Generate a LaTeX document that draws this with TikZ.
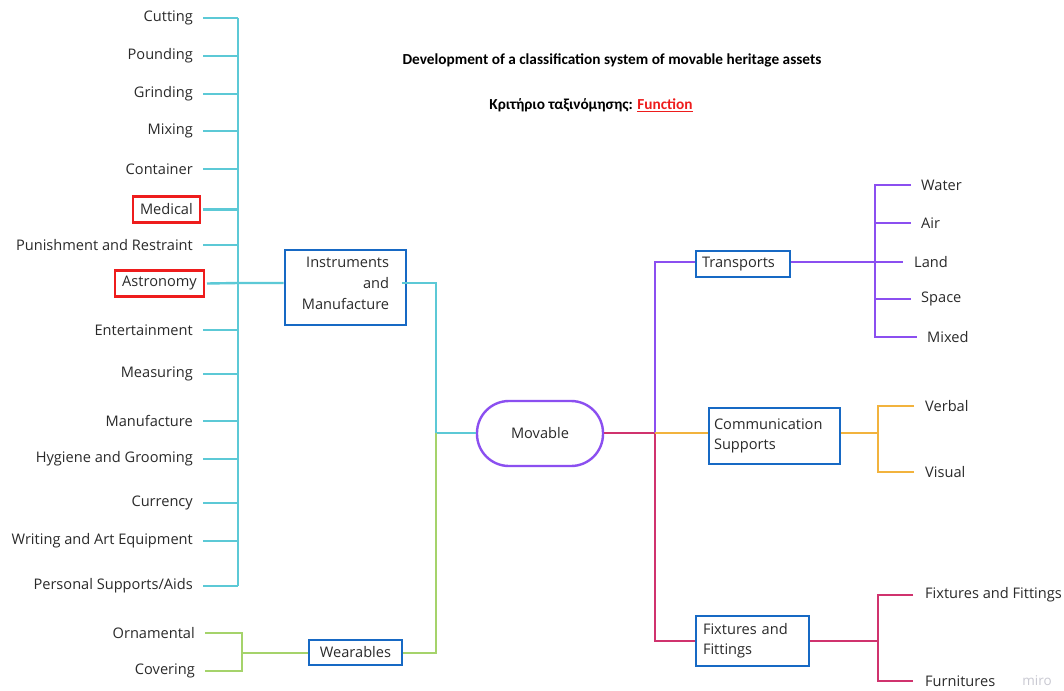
\documentclass[tikz,border=0pt]{standalone}
\usepackage{fontspec}
\setmainfont{Open Sans}
\newfontfamily\titlefont{Carlito}
\definecolor{txt}{HTML}{2A2A2A}
\definecolor{cyanl}{HTML}{5CC9D6}
\definecolor{greenl}{HTML}{A5D36B}
\definecolor{purplel}{HTML}{8B4FF0}
\definecolor{orangel}{HTML}{F2B33D}
\definecolor{crimsonl}{HTML}{D0336E}
\definecolor{boxblue}{HTML}{1769C4}
\definecolor{redbox}{HTML}{EE1C1C}
\definecolor{mirogray}{HTML}{C9C9D2}
\newcommand{\labfont}{\fontsize{14.6}{17}\selectfont}
\newcommand{\ttlfont}{\titlefont\bfseries\fontsize{15.3}{18}\selectfont}
\tikzset{
  leaf/.style={font=\labfont, inner sep=0pt, anchor=east, text=txt},
  leafl/.style={font=\labfont, inner sep=0pt, anchor=west, text=txt},
  redleaf/.style={font=\labfont, draw=redbox, line width=2.4pt, inner xsep=7pt, inner ysep=0pt, minimum height=26pt, anchor=east, text=txt},
  catbox/.style={draw=boxblue, line width=2.9pt, font=\labfont, text=txt, inner sep=0pt},
  conn/.style={line width=2.4pt},
  cyc/.style={conn, draw=cyanl},
  grc/.style={conn, draw=greenl},
  puc/.style={conn, draw=purplel},
  orc/.style={conn, draw=orangel},
  crc/.style={conn, draw=crimsonl},
}
\begin{document}
\begin{tikzpicture}[x=1pt,y=-1pt]
\useasboundingbox[fill=white] (0,0) rectangle (1064,690);

% titles
\node[font=\ttlfont, inner sep=0pt] (title) at (612,60) {Development of a classification system of movable heritage assets};
\node[font=\ttlfont, inner sep=0pt] (crit) at (591,105) {Κριτήριο ταξινόμησης: \textcolor{redbox}{\underline{Function}}};

% central node
\node[draw=purplel, line width=2.4pt, rounded corners=32pt, minimum width=126pt, minimum height=65pt, font=\labfont, text=txt] (mov) at (540,433.5) {Movable};

% left categories
\node[catbox, minimum width=121pt, minimum height=75pt, align=right] (inst) at (345.5,287.5) {Instruments\\[4pt]and\\[4pt]Manufacture\\[-9pt]~};
\node[catbox, minimum width=93pt, minimum height=25pt] (wear) at (355.5,652.5) {Wearables};

% right categories
\node[catbox, minimum width=94pt, minimum height=26pt, text width=82pt, align=left] (trans) at (743,264) {Transports};
\node[catbox, minimum width=131pt, minimum height=56pt, text width=121pt, align=left] (comm) at (774.5,436) {Communication\\[3pt]Supports};
\node[catbox, minimum width=113pt, minimum height=50pt, text width=99pt, align=left] (fix) at (752.5,641) {Fixtures and\\[3pt]Fittings};

% junction coordinates
\coordinate (spI) at (238,283);
\coordinate (jL) at (436,433);
\coordinate (spW) at (242,653);
\coordinate (jR) at (655,433);
\coordinate (spT) at (875,262);
\coordinate (spC) at (878,433);
\coordinate (spF) at (878,641);

% instrument leaves
\node[leaf] (l1) at (193,18) {Cutting};
\node[leaf] (l2) at (193,56) {Pounding};
\node[leaf] (l3) at (193,94) {Grinding};
\node[leaf] (l4) at (193,131) {Mixing};
\node[leaf] (l5) at (193,169) {Container};
\node[redleaf] (l6) at (201,209.5) {Medical};
\node[leaf] (l7) at (193,245) {Punishment and Restraint};
\node[redleaf] (l8) at (205,283.5) {Astronomy};
\node[leaf] (l9) at (193,330) {Entertainment};
\node[leaf] (l10) at (193,374) {Measuring};
\node[leaf] (l11) at (193,421) {Manufacture};
\node[leaf] (l12) at (193,459) {Hygiene and Grooming};
\node[leaf] (l13) at (193,503) {Currency};
\node[leaf] (l14) at (193,541) {Writing and Art Equipment};
\node[leaf] (l15) at (193,586) {Personal Supports/Aids};

% wearables leaves
\node[leaf] (w1) at (195,633) {Ornamental};
\node[leaf] (w2) at (195,671) {Covering};

% transports leaves
\node[leafl] (t1) at (921,185) {Water};
\node[leafl] (t2) at (921,223) {Air};
\node[leafl] (t3) at (914,262) {Land};
\node[leafl] (t4) at (921,299) {Space};
\node[leafl] (t5) at (927,337) {Mixed};

% communication leaves
\node[leafl] (c1) at (925,406) {Verbal};
\node[leafl] (c2) at (925,472) {Visual};

% fixtures leaves
\node[leafl] (f1) at (925,595) {Fixtures and Fittings};
\node[leafl] (f2) at (925,681) {Furnitures};

% miro mark
\node[font=\fontsize{13.5}{15}\selectfont, text=mirogray, inner sep=0pt] (miro) at (1037,681) {miro};

% ---- connectors: instruments
\draw[cyc] (l1.east -| spI) -- (l15.east -| spI);
\foreach \n in {l1,l2,l3,l4,l5,l7,l9,l10,l11,l12,l13,l14,l15}
  \draw[cyc] ([xshift=10pt]\n.east) -- (\n.east -| spI);
\draw[cyc] ([xshift=2pt]l6.east) -- (l6.east -| spI);
\draw[cyc] ([xshift=2pt]l8.east) -- (spI) -- (spI -| inst.west);
\draw[cyc] ([xshift=-5pt]spI -| inst.east) -- (spI -| jL) -- (jL) -- (jL -| mov.west);

% wearables
\draw[grc] (spW -| wear.east) -| (jL);
\draw[grc] (spW -| wear.west) -- (spW);
\draw[grc] ([xshift=10pt]w1.east) -| (spW) |- ([xshift=10pt]w2.east);

% right side
\draw[crc] (jR -| mov.east) -- (jR);
\draw[puc] (jR) |- (spT -| trans.west);
\draw[crc] (jR) |- (spF -| fix.west);
\draw[orc] (jR) -- (jR -| comm.west);

% transports
\draw[puc] (spT -| trans.east) -- (spT);
\draw[puc] ([xshift=-10pt]t1.west) -| (spT) |- ([xshift=-10pt]t5.west);
\draw[puc] (spT) -- ([xshift=-11pt]t3.west);
\draw[puc] (t2.west -| spT) -- ([xshift=-10pt]t2.west);
\draw[puc] (t4.west -| spT) -- ([xshift=-10pt]t4.west);

% communication
\draw[orc] (spC -| comm.east) -- (spC);
\draw[orc] ([xshift=-11pt]c1.west) -| (spC) |- ([xshift=-11pt]c2.west);

% fixtures
\draw[crc] (spF -| fix.east) -- (spF);
\draw[crc] ([xshift=-12pt]f1.west) -| (spF) |- ([xshift=-12pt]f2.west);
\end{tikzpicture}
\end{document}
